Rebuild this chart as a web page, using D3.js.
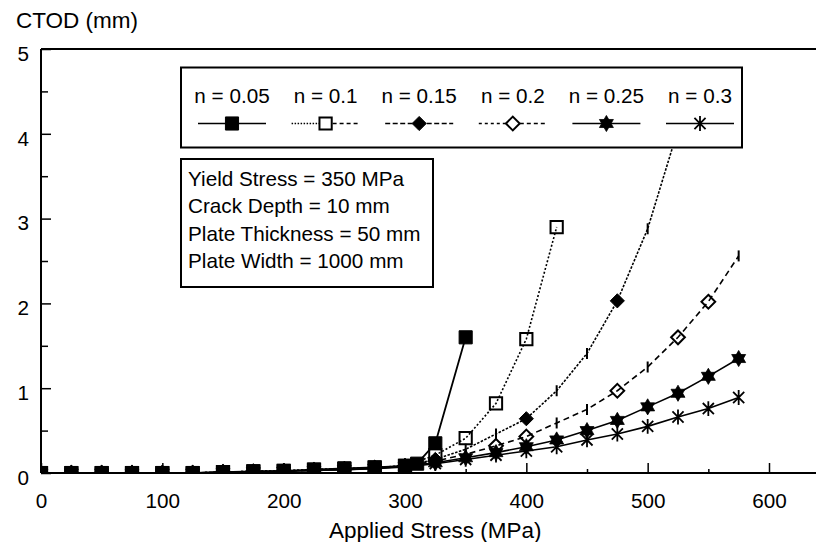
<!DOCTYPE html>
<html><head><meta charset="utf-8">
<script src="https://cdn.jsdelivr.net/npm/d3@7"></script>
<style>
html,body{margin:0;padding:0;background:#fff;}
svg{display:block;font-family:"Liberation Sans",Arial,sans-serif;}
</style></head><body>
<svg id="chart" width="816" height="542"></svg>
<script>
// ---------- data ----------
const seriesLabels = ["n = 0.05", "n = 0.1", "n = 0.15", "n = 0.2", "n = 0.25", "n = 0.3"];

const stress05 = [0,25,50,75,100,125,150,175,200,225,250,275,300,310,325,350];
const ctod05   = [0,0,0,0,0,0,0.01,0.02,0.025,0.04,0.055,0.065,0.085,0.11,0.35,1.6];

const stress10 = [0,25,50,75,100,125,150,175,200,225,250,275,300,325,350,375,400,425];
const ctod10   = [0,0,0,0,0,0,0.01,0.02,0.025,0.04,0.05,0.065,0.085,0.21,0.41,0.82,1.58,2.9];

const stress15 = [0,25,50,75,100,125,150,175,200,225,250,275,300,325,350,375,400,425,450,475,500,525];
const ctod15   = [0,0,0,0,0,0,0.01,0.02,0.025,0.04,0.05,0.06,0.085,0.16,0.28,0.46,0.64,0.97,1.41,2.03,2.88,4.05];

const stress20 = [0,25,50,75,100,125,150,175,200,225,250,275,300,325,350,375,400,425,450,475,500,525,550,575];
const ctod20   = [0,0,0,0,0,0,0.01,0.015,0.02,0.035,0.045,0.06,0.08,0.14,0.22,0.32,0.43,0.59,0.75,0.97,1.25,1.6,2.02,2.56];

const stress25 = [0,25,50,75,100,125,150,175,200,225,250,275,300,325,350,375,400,425,450,475,500,525,550,575];
const ctod25   = [0,0,0,0,0,0,0.01,0.015,0.02,0.03,0.04,0.055,0.08,0.12,0.18,0.24,0.31,0.39,0.5,0.62,0.78,0.94,1.14,1.35];

const stress30 = [0,25,50,75,100,125,150,175,200,225,250,275,300,325,350,375,400,425,450,475,500,525,550,575];
const ctod30   = [0,0,0,0,0,0,0.005,0.01,0.02,0.03,0.04,0.05,0.07,0.11,0.16,0.21,0.26,0.31,0.39,0.46,0.55,0.66,0.76,0.89];

// points drawn with a short vertical bar instead of the series symbol
const barPoints15 = [350,375,425,450,500,525];
const barPoints20 = [350,425,450,500,575];

const xMajorTicks = [0,100,200,300,400,500,600];
const xMinorTicks = [50,150,250,350,450,550];
const yMajorTicks = [0,1,2,3,4,5];
const yMinorTicks = [0.5,1.5,2.5,3.5,4.5];

const infoLines = ["Yield Stress = 350 MPa","Crack Depth = 10 mm","Plate Thickness = 50 mm","Plate Width = 1000 mm"];
const yTitle = "CTOD (mm)";
const xTitle = "Applied Stress (MPa)";

// ---------- setup ----------
const svg = d3.select("#chart");
const FONT = 20.7;
const TFONT = 22.5;
const x = d3.scaleLinear().domain([0,600]).range([41,769]);
const y = d3.scaleLinear().domain([0,5]).range([473,49]);

// custom symbols
const sqr = {draw(c,s){const r=Math.sqrt(s)/2;c.moveTo(-r,-r);c.lineTo(r,-r);c.lineTo(r,r);c.lineTo(-r,r);c.closePath();}};
const diamond = {draw(c,s){const r=Math.sqrt(s)/2;c.moveTo(0,-r);c.lineTo(r,0);c.lineTo(0,r);c.lineTo(-r,0);c.closePath();}};
const hexagram = {draw(c,s){const r=Math.sqrt(s)/2;
  for(let t=0;t<2;t++){const o=t?Math.PI/2:-Math.PI/2;
    for(let k=0;k<3;k++){const a=o+k*2*Math.PI/3;const px=r*Math.cos(a),py=r*Math.sin(a);k?c.lineTo(px,py):c.moveTo(px,py);}c.closePath();}}};
const asterisk = {draw(c,s){const r=Math.sqrt(s)/2;
  c.moveTo(0,-r);c.lineTo(0,r);
  const d=r*0.75;c.moveTo(-d,-d);c.lineTo(d,d);c.moveTo(d,-d);c.lineTo(-d,d);}};
const vbar = {draw(c,s){const r=Math.sqrt(s)/2;c.moveTo(0,-r);c.lineTo(0,r);}};

const series = [
  {label:seriesLabels[0], xs:stress05, ys:ctod05, bars:[], sym:sqr, size:172, fill:"#000", stroke:"#000", sw:1, dash:null, lw:1.8, legL:null, legR:null},
  {label:seriesLabels[1], xs:stress10, ys:ctod10, bars:[], sym:sqr, size:150, fill:"none", stroke:"#000", sw:2, dash:"2,2", lw:1.6, legL:"1.5,1.5", legR:"4,3"},
  {label:seriesLabels[2], xs:stress15, ys:ctod15, bars:barPoints15, sym:diamond, size:200, fill:"#000", stroke:"#000", sw:1, dash:"2.5,1.5", lw:1.6, legL:"5,2.5", legR:"5,2.5"},
  {label:seriesLabels[3], xs:stress20, ys:ctod20, bars:barPoints20, sym:diamond, size:190, fill:"none", stroke:"#000", sw:2, dash:"6,4", lw:1.6, legL:"3,3", legR:"4,3"},
  {label:seriesLabels[4], xs:stress25, ys:ctod25, bars:[], sym:hexagram, size:260, fill:"#000", stroke:"#000", sw:0.8, dash:null, lw:1.6, legL:null, legR:null},
  {label:seriesLabels[5], xs:stress30, ys:ctod30, bars:[], sym:asterisk, size:220, fill:"none", stroke:"#000", sw:1.8, dash:null, lw:1.6, legL:null, legR:null}
];

// clip
svg.append("defs").append("clipPath").attr("id","plotclip")
  .append("rect").attr("x",41).attr("y",49).attr("width",816-41).attr("height",473-49);

// ---------- axes ----------
const gx = svg.append("g").attr("transform","translate(0,473)")
  .call(d3.axisBottom(x).tickValues(xMajorTicks).tickSizeInner(-10).tickSizeOuter(0).tickFormat(d3.format("d")));
gx.select(".domain").remove();
gx.selectAll("line").attr("stroke","#000").attr("stroke-width",1.5);
gx.selectAll("text").attr("y",35).attr("dy",null).attr("font-size",FONT).attr("font-family",null).attr("fill","#000");
const gxm = svg.append("g").attr("transform","translate(0,473)")
  .call(d3.axisBottom(x).tickValues(xMinorTicks).tickSizeInner(-4).tickSizeOuter(0).tickFormat(""));
gxm.select(".domain").remove();
gxm.selectAll("line").attr("stroke","#000").attr("stroke-width",1.5);

const gy = svg.append("g").attr("transform","translate(41,0)")
  .call(d3.axisLeft(y).tickValues(yMajorTicks).tickSizeInner(-10).tickSizeOuter(0).tickPadding(12).tickFormat(d3.format("d")));
gy.select(".domain").remove();
gy.selectAll("line").attr("stroke","#000").attr("stroke-width",1.5);
gy.selectAll("text").attr("dy","0.55em").attr("font-size",FONT).attr("font-family",null).attr("fill","#000");
const gym = svg.append("g").attr("transform","translate(41,0)")
  .call(d3.axisLeft(y).tickValues(yMinorTicks).tickSizeInner(-7).tickSizeOuter(0).tickFormat(""));
gym.select(".domain").remove();
gym.selectAll("line").attr("stroke","#000").attr("stroke-width",1.5);

// frame lines
const frame = svg.append("g").attr("stroke","#000").attr("stroke-width",2);
frame.append("line").attr("x1",x(0)).attr("x2",x(0)).attr("y1",y(5)).attr("y2",y(0));
frame.append("line").attr("x1",x(0)).attr("x2",816).attr("y1",y(5)).attr("y2",y(5));
frame.append("line").attr("x1",x(0)).attr("x2",816).attr("y1",y(0)).attr("y2",y(0));

// titles
svg.append("text").attr("x",16).attr("y",28).attr("font-size",TFONT).text(yTitle);
svg.append("text").attr("x",329).attr("y",537.5).attr("font-size",TFONT).text(xTitle);

// ---------- data ----------
const plot = svg.append("g").attr("clip-path","url(#plotclip)");
const line = d3.line().x(d=>x(d[0])).y(d=>y(d[1]));
series.slice().reverse().forEach(s=>{
  const pts = s.xs.map((v,i)=>[v,s.ys[i]]);
  const g = plot.append("g");
  g.append("path").datum(pts).attr("d",line).attr("fill","none").attr("stroke","#000")
    .attr("stroke-width",s.lw).attr("stroke-dasharray",s.dash);
  g.selectAll("path.m").data(pts).enter().append("path").attr("class","m")
    .attr("transform",d=>`translate(${x(d[0])},${y(d[1])})`)
    .attr("d",d=> s.bars.includes(d[0]) ? d3.symbol().type(vbar).size(121)() : d3.symbol().type(s.sym).size(s.size)())
    .attr("fill",d=> s.bars.includes(d[0]) ? "none" : s.fill)
    .attr("stroke","#000")
    .attr("stroke-width",d=> s.bars.includes(d[0]) ? 2 : s.sw);
});

// ---------- legend ----------
const leg = svg.append("g");
leg.append("rect").attr("x",181).attr("y",67.5).attr("width",561).attr("height",80)
  .attr("fill","#fff").attr("stroke","#000").attr("stroke-width",2);
series.forEach((s,i)=>{
  const cx = 232 + i*93.6;
  leg.append("text").attr("x",cx).attr("y",102.5).attr("text-anchor","middle").attr("font-size",FONT).text(s.label);
  leg.append("line").attr("x1",cx-34).attr("x2",cx).attr("y1",123.5).attr("y2",123.5)
    .attr("stroke","#000").attr("stroke-width",1.6).attr("stroke-dasharray",s.legL);
  leg.append("line").attr("x1",cx).attr("x2",cx+34).attr("y1",123.5).attr("y2",123.5)
    .attr("stroke","#000").attr("stroke-width",1.6).attr("stroke-dasharray",s.legR);
  leg.append("path").attr("transform",`translate(${cx},123.5)`)
    .attr("d",d3.symbol().type(s.sym).size(s.size)())
    .attr("fill",s.fill==="none"?"#fff":s.fill).attr("stroke","#000").attr("stroke-width",s.sw);
});

// ---------- info box ----------
const info = svg.append("g");
info.append("rect").attr("x",181).attr("y",159).attr("width",252).attr("height",128)
  .attr("fill","#fff").attr("stroke","#000").attr("stroke-width",2);
info.selectAll("text").data(infoLines).enter().append("text")
  .attr("x",188).attr("y",(d,i)=>185.5+i*27.5).attr("font-size",FONT).text(d=>d);
</script>
</body></html>
